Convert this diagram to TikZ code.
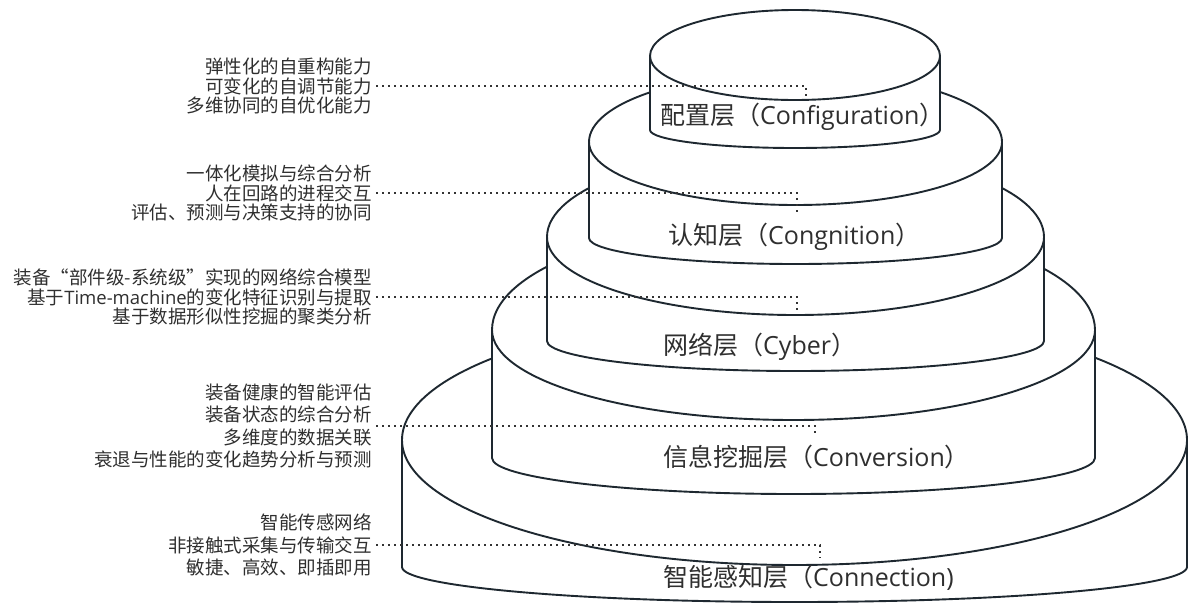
\documentclass[tikz,border=0pt]{standalone}
\usepackage{fontspec}
\setmainfont{Noto Sans CJK SC}
\newfontfamily\latinpart{Open Sans}
\definecolor{inkline}{HTML}{1E2830}
\definecolor{inktext}{HTML}{2F2F2F}
\definecolor{inkdot}{HTML}{333333}
% one drum of the stack: cx, cy, rx, back ry, front ry, foot of the sides, bottom ry
\newcommand{\drum}[7]{%
  \filldraw[drumline, fill=white]
    ({#1-#3},#2) .. controls ({#1-#3},{#2-0.5523*#4}) and ({#1-0.5523*#3},{#2-#4}) .. (#1,{#2-#4})
    .. controls ({#1+0.5523*#3},{#2-#4}) and ({#1+#3},{#2-0.5523*#4}) .. ({#1+#3},#2)
    -- ({#1+#3},#6)
    .. controls ({#1+#3},{#6+0.5523*#7}) and ({#1+0.5523*#3},{#6+#7}) .. (#1,{#6+#7})
    .. controls ({#1-0.5523*#3},{#6+#7}) and ({#1-#3},{#6+0.5523*#7}) .. ({#1-#3},#6)
    -- cycle;
  \draw[drumline]
    ({#1-#3},#2) .. controls ({#1-#3},{#2+0.5523*#5}) and ({#1-0.5523*#3},{#2+#5}) .. (#1,{#2+#5})
    .. controls ({#1+0.5523*#3},{#2+#5}) and ({#1+#3},{#2+0.5523*#5}) .. ({#1+#3},#2);
}
\begin{document}
\begin{tikzpicture}[x=1pt, y=-1pt,
  drumline/.style={draw=inkline, line width=1.9pt, line join=round},
  note/.style={anchor=east, align=right, text=inktext, inner sep=0pt,
    font=\fontsize{18.5}{19.5}\selectfont},
  widenote/.style={note, font=\fontsize{18.5}{22.5}\selectfont},
  title/.style={anchor=west, text=inktext, inner sep=0pt,
    font=\fontsize{25}{28}\selectfont},
  lead/.style={draw=inkdot, line width=1.8pt, dash pattern=on 1.8pt off 4.2pt}]
\useasboundingbox (0,0) rectangle (1190,605);

% the stack, from the widest drum at the bottom up to the top one
\drum{794.5}{440}{392.5}{128}{125}{567}{35}
\drum{793.5}{330}{301.5}{110}{90}{458}{36}
\drum{795.5}{237}{248.5}{88}{78}{341}{30}
\drum{795.5}{142}{206.5}{70}{63}{238}{26}
\drum{795}{56}{145}{46}{44}{130}{18}

% layer names
\node[title] (t1) at (660,117) {配置层（{\latinpart Configuration}）};
\node[title] (t2) at (668,237) {认知层（{\latinpart Congnition}）};
\node[title] (t3) at (663,347) {网络层（{\latinpart Cyber}）};
\node[title] (t4) at (663,457) {信息挖掘层（{\latinpart Conversion}）};
\node[title] (t5) at (663,578) {智能感知层（{\latinpart Connection)}};

% notes on the left
\node[note] (g1) at (372,86) {弹性化的自重构能力\\可变化的自调节能力\\多维协同的自优化能力};
\node[note] (g2) at (372,193) {一体化模拟与综合分析\\人在回路的进程交互\\评估、预测与决策支持的协同};
\node[note] (g3) at (372,297) {装备“部件级-系统级”实现的网络综合模型\\基于{\latinpart Time-machine}的变化特征识别与提取\\基于数据形似性挖掘的聚类分析};
\node[widenote] (g4) at (372,426) {装备健康的智能评估\\装备状态的综合分析\\多维度的数据关联\\衰退与性能的变化趋势分析与预测};
\node[widenote] (g5) at (372,545) {智能传感网络\\非接触式采集与传输交互\\敏捷、高效、即插即用};

% where each lead ends on its drum
\coordinate (e1) at (806,99);
\coordinate (e2) at (797,212);
\coordinate (e3) at (797,310);
\coordinate (e4) at (815,436);
\coordinate (e5) at (820,558);

\draw[lead] ([xshift=4pt]g1.east) -| (e1);
\draw[lead] ([xshift=4pt]g2.east) -| (e2);
\draw[lead] ([xshift=4pt]g3.east) -| (e3);
\draw[lead] ([xshift=4pt]g4.east) -| (e4);
\draw[lead] ([xshift=4pt]g5.east) -| (e5);
\end{tikzpicture}
\end{document}
